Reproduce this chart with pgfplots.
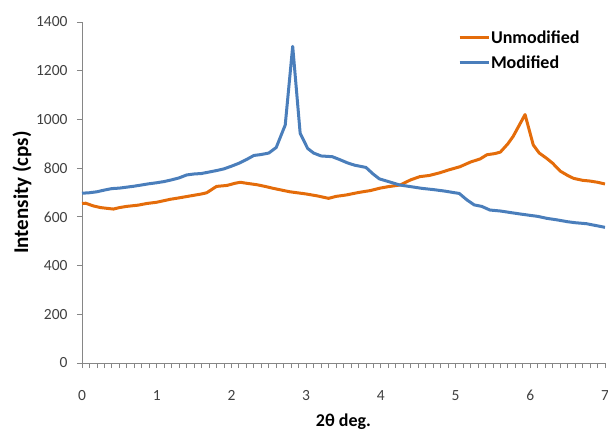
\documentclass[border=0pt]{standalone}
\usepackage{fontspec}
\setmainfont{Carlito}
\usepackage{pgfplots}
\pgfplotsset{compat=1.18}
\definecolor{xorange}{RGB}{228,108,10}
\definecolor{xblue}{RGB}{74,126,187}
\definecolor{xgray}{RGB}{134,134,134}
\definecolor{xtext}{RGB}{64,64,64}
\begin{document}
\begin{tikzpicture}
\begin{axis}[
  at={(0,0)}, anchor=origin,
  scale only axis,
  width=523bp, height=341bp,
  xmin=0, xmax=7, ymin=0, ymax=1400,
  axis lines*=left,
  axis line style={xgray, line width=0.9bp},
  xtick={0,1,2,3,4,5,6,7},
  minor x tick num=9,
  ytick={0,200,400,600,800,1000,1200,1400},
  tick align=outside,
  major tick length=5bp, minor tick length=5bp,
  tick style={xgray, line width=0.8bp},
  /pgf/number format/assume math mode=true,
  /pgf/number format/1000 sep={},
  tick label style={font=\fontsize{15.5bp}{17bp}\selectfont, text=xtext},
  xticklabel style={anchor=north, yshift=-19bp},
  yticklabel style={anchor=east, xshift=-6bp},
  xlabel={\textbf{2θ deg.}},
  ylabel={\textbf{Intensity (cps)}},
  xlabel style={font=\fontsize{18bp}{20bp}\selectfont, text=black, at={(axis description cs:0.5,0)}, anchor=center, yshift=-59bp},
  ylabel style={font=\fontsize{21bp}{23bp}\selectfont, text=black, at={(axis description cs:0,0.5)}, anchor=center, yshift=60bp},
  legend style={at={(axis cs:4.99,1378)}, anchor=north west, draw=none, fill=none,
    font=\fontsize{18bp}{20bp}\selectfont\bfseries, row sep=9bp,
    nodes={inner sep=1bp}},
  legend cell align=left,
  legend image code/.code={\draw[#1, line width=3bp] (0bp,0bp) -- (29bp,0bp);},
]
\addplot[xorange, line width=3bp, line join=round] coordinates {
(0,655) (0.05,656) (0.15,645) (0.25,638) (0.42,632) (0.5,638) (0.6,643) (0.75,648)
(0.87,655) (1.0,660) (1.18,672) (1.3,678) (1.45,686) (1.6,694) (1.67,699) (1.8,725)
(1.94,729) (2.05,738) (2.12,742) (2.2,738) (2.34,732) (2.45,725) (2.56,717) (2.78,703)
(3.0,694) (3.15,686) (3.30,676) (3.4,684) (3.54,690) (3.7,700) (3.86,708) (3.99,718)
(4.1,724) (4.26,731) (4.4,752) (4.52,765) (4.65,770) (4.79,781) (4.9,792) (5.06,806)
(5.2,825) (5.33,838) (5.42,855) (5.53,860) (5.6,866) (5.7,900) (5.77,930) (5.93,1020)
(6.04,895) (6.12,862) (6.22,840) (6.3,820) (6.4,788) (6.5,770) (6.58,758) (6.7,750)
(6.8,747) (6.9,742) (7.0,735)
};
\addlegendentry{Unmodified}
\addplot[xblue, line width=3bp, line join=round] coordinates {
(0,697) (0.1,699) (0.2,703) (0.3,710) (0.4,716) (0.5,718) (0.6,722) (0.7,726)
(0.8,731) (0.9,736) (1.0,740) (1.1,745) (1.2,752) (1.3,760) (1.4,772) (1.5,776)
(1.6,778) (1.7,784) (1.8,790) (1.9,797) (2.0,808) (2.1,820) (2.2,835) (2.3,852)
(2.4,856) (2.5,862) (2.6,885) (2.72,977) (2.82,1300) (2.92,943) (3.02,881) (3.1,862)
(3.2,850) (3.35,847) (3.45,835) (3.55,822) (3.65,812) (3.8,803) (3.9,775) (3.98,756)
(4.1,745) (4.25,731) (4.4,724) (4.55,717) (4.7,712) (4.85,706) (5.05,696) (5.15,670)
(5.25,649) (5.35,643) (5.46,628) (5.6,624) (5.75,617) (5.86,612) (6.0,606) (6.1,602)
(6.22,594) (6.35,588) (6.5,580) (6.6,576) (6.75,572) (6.9,563) (7.0,557)
};
\addlegendentry{Modified}
\end{axis}
\pgfresetboundingbox
\path (-82bp,-69bp) rectangle (526bp,363bp);
\end{tikzpicture}
\end{document}
